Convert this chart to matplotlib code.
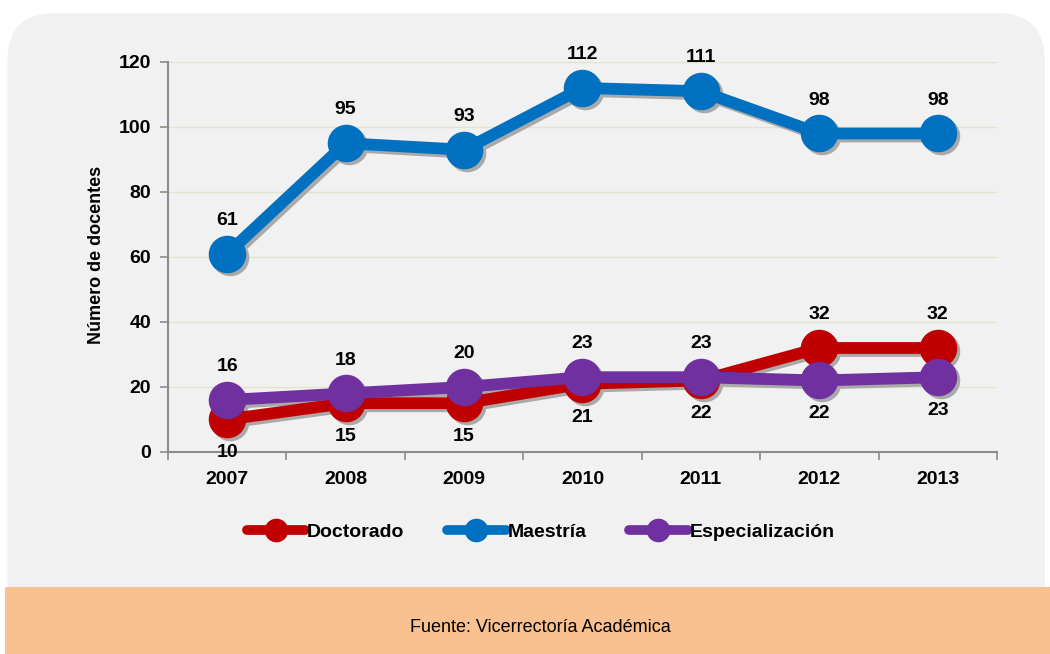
import matplotlib

matplotlib.use("Agg")

import matplotlib.pyplot as plt
import numpy as np
from matplotlib.lines import Line2D
from matplotlib.patches import FancyBboxPatch, Rectangle
from matplotlib.transforms import offset_copy


plt.rcParams["font.family"] = ["Liberation Sans", "DejaVu Sans"]

YEARS = ["2007", "2008", "2009", "2010", "2011", "2012", "2013"]

DOCTORADO = [10, 15, 15, 21, 22, 32, 32]
MAESTRIA = [61, 95, 93, 112, 111, 98, 98]
ESPECIALIZACION = [16, 18, 20, 23, 23, 22, 23]

# label position for each point: 1 = above, -1 = below
DOCTORADO_POS = [-1, -1, -1, -1, -1, 1, 1]
MAESTRIA_POS = [1, 1, 1, 1, 1, 1, 1]
ESPECIALIZACION_POS = [1, 1, 1, 1, 1, -1, -1]

SERIES = [
    ("Doctorado", DOCTORADO, DOCTORADO_POS, "#C00000"),
    ("Maestría", MAESTRIA, MAESTRIA_POS, "#0070C0"),
    ("Especialización", ESPECIALIZACION, ESPECIALIZACION_POS, "#7030A0"),
]

PANEL_COLOR = "#f1f1f1"
FOOTER_COLOR = "#f9c18f"
AXIS_COLOR = "#8c8c8c"


def main():
    fig = plt.figure(figsize=(10.5, 6.54), dpi=100)
    fig.patch.set_facecolor("white")

    # rounded gray panel and orange footer band
    panel = FancyBboxPatch(
        (0.007, 0.03),
        0.988,
        0.95,
        boxstyle="round,pad=0,rounding_size=0.045",
        transform=fig.transFigure,
        facecolor=PANEL_COLOR,
        edgecolor="none",
        mutation_aspect=1050 / 654,
        zorder=-10,
    )
    fig.patches.append(panel)

    footer = Rectangle(
        (0.005, 0.0),
        0.995,
        1 - 587 / 654,
        transform=fig.transFigure,
        facecolor=FOOTER_COLOR,
        edgecolor="none",
        zorder=-9,
    )
    fig.patches.append(footer)

    ax = fig.add_axes([0.160, 0.3089, 0.7895, 0.5963])
    ax.set_facecolor("none")

    x = np.arange(len(YEARS)) + 0.5

    for name, values, positions, color in SERIES:
        shadow = offset_copy(ax.transData, fig=fig, x=3, y=-3, units="dots")
        ax.plot(
            x,
            values,
            color="#a9a9a9",
            linewidth=8.5,
            marker="o",
            markersize=26,
            solid_capstyle="round",
            transform=shadow,
            zorder=2,
        )
        ax.plot(
            x,
            values,
            color=color,
            linewidth=8.5,
            marker="o",
            markersize=26,
            solid_capstyle="round",
            zorder=3,
            label=name,
        )
        for xi, value, pos in zip(x, values, positions):
            ax.annotate(
                str(value),
                (xi, value),
                xytext=(0, 24 * pos),
                textcoords="offset points",
                ha="center",
                va="center",
                fontsize=14,
                fontweight="bold",
                zorder=5,
            )

    ax.set_xlim(0, len(YEARS))
    ax.set_ylim(0, 120)

    ax.set_yticks(np.arange(0, 121, 20))
    ax.set_xticks(np.arange(0, len(YEARS) + 1))
    ax.set_xticklabels([])
    ax.set_xticks(x, minor=True)
    ax.set_xticklabels(YEARS, minor=True)

    ax.tick_params(axis="y", length=6, width=1.2, color=AXIS_COLOR,
                   labelsize=14, pad=6)
    ax.tick_params(axis="x", which="major", length=6, width=1.2,
                   color=AXIS_COLOR)
    ax.tick_params(axis="x", which="minor", length=0, labelsize=14, pad=14)
    for label in ax.get_yticklabels() + ax.get_xticklabels(minor=True):
        label.set_fontweight("bold")

    ax.grid(axis="y", color="#e6e2cc", linewidth=1)
    ax.set_axisbelow(True)

    for side in ["top", "right"]:
        ax.spines[side].set_visible(False)
    for side in ["left", "bottom"]:
        ax.spines[side].set_color(AXIS_COLOR)
        ax.spines[side].set_linewidth(1.5)

    fig.text(
        0.092,
        1 - 255 / 654,
        "Número de docentes",
        rotation=90,
        ha="center",
        va="center",
        fontsize=13,
        fontweight="bold",
    )

    handles = [
        Line2D([], [], color=color, linewidth=7, marker="o", markersize=16,
               solid_capstyle="round")
        for _, _, _, color in SERIES
    ]
    fig.legend(
        handles,
        [name for name, _, _, _ in SERIES],
        loc="center",
        bbox_to_anchor=(0.515, 1 - 532 / 654),
        ncol=3,
        frameon=False,
        handlelength=3.0,
        handletextpad=0.1,
        columnspacing=2.2,
        prop={"size": 14, "weight": "bold"},
    )

    fig.text(
        0.515,
        1 - 627 / 654,
        "Fuente: Vicerrectoría Académica",
        ha="center",
        va="center",
        fontsize=13,
    )

    fig.savefig("out.png", dpi=100)
    plt.close(fig)


if __name__ == "__main__":
    main()
